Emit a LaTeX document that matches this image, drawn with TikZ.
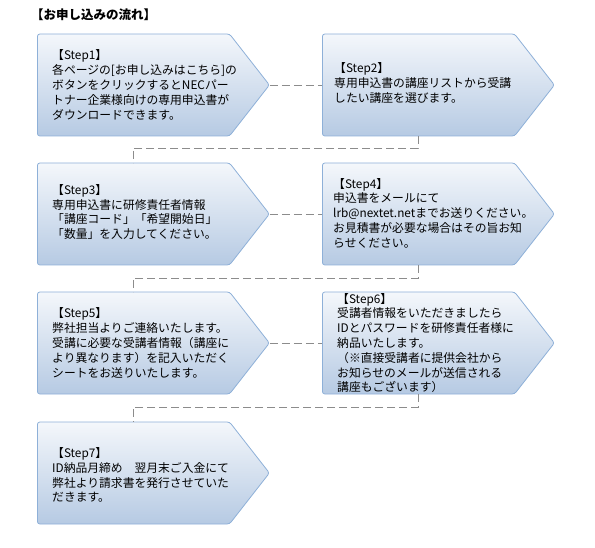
\documentclass[tikz,border=0pt]{standalone}
\usepackage{fontspec}
\setmainfont{Noto Sans CJK JP}
\usetikzlibrary{shapes.symbols,calc}
\definecolor{boxtop}{HTML}{F4F7FB}
\definecolor{boxbottom}{HTML}{B6CAE3}
\definecolor{boxedge}{HTML}{8EB0D8}
\definecolor{linkgray}{HTML}{8C8C8C}

\begin{document}
\begin{tikzpicture}[x=1pt,y=-1pt,
      stepbox/.style={signal,signal to=east,signal pointer angle=104,
        minimum width=232pt,minimum height=102pt,inner sep=0pt,
        draw=boxedge,line width=0.8pt,rounded corners=2.5pt,
        top color=boxtop,bottom color=boxbottom,anchor=west},
      steptext/.style={anchor=west,align=left,inner sep=0pt,
        font=\fontsize{11.8}{14.8}\selectfont},
      link/.style={linkgray,line width=0.8pt,dash pattern=on 8pt off 4pt}]
    \useasboundingbox (0,0) rectangle (595,548);

    % title
    \node[anchor=west,inner sep=0pt,font=\fontsize{12.5}{14}\selectfont\bfseries] (title) at (31,15) {【お申し込みの流れ】};

    % step boxes, two columns
    \node[stepbox] (s1) at (37,85) {};
    \node[stepbox] (s2) at (322,85) {};
    \node[stepbox] (s3) at (37,214) {};
    \node[stepbox] (s4) at (322,214) {};
    \node[stepbox] (s5) at (37,343) {};
    \node[stepbox] (s6) at (322,343) {};
    \node[stepbox] (s7) at (37,473) {};

    % texts
    \node[steptext] (t1) at (52,85) {【Step1】\\各ページの[お申し込みはこちら]の\\ボタンをクリックするとNECパー\\トナー企業様向けの専用申込書が\\ダウンロードできます。};
    \node[steptext] (t2) at (334,83) {【Step2】\\専用申込書の講座リストから受講\\したい講座を選びます。};
    \node[steptext] (t3) at (52,212) {【Step3】\\専用申込書に研修責任者情報\\「講座コード」「希望開始日」\\「数量」を入力してください。};
    \node[steptext] (t4) at (333,213) {【Step4】\\申込書をメールにて\\lrb@nextet.netまでお送りください。\\お見積書が必要な場合はその旨お知\\らせください。};
    \node[steptext] (t5) at (52,343) {【Step5】\\弊社担当よりご連絡いたします。\\受講に必要な受講者情報（講座に\\より異なります）を記入いただく\\シートをお送りいたします。};
    \node[steptext] (t6) at (337,343) {【Step6】\\受講者情報をいただきましたら\\IDとパスワードを研修責任者様に\\納品いたします。\\（※直接受講者に提供会社から\\お知らせのメールが送信される\\講座もございます）};
    \node[steptext] (t7) at (52,475) {【Step7】\\ID納品月締め　翌月末ご入金にて\\弊社より請求書を発行させていた\\だきます。};

    % dashed connectors
    \draw[link] (s1.east) -- (s2.west);
    \draw[link] ($(s2.west)+(96,51)$) -- ++(0,12) -| ($(s3.west)+(96,-51)$);
    \draw[link] (s3.east) -- (s4.west);
    \draw[link] ($(s4.west)+(96,51)$) -- ++(0,13) -| ($(s5.west)+(96,-51)$);
    \draw[link] (s5.east) -- (s6.west);
    \draw[link] ($(s6.west)+(96,51)$) -- ++(0,13) -| ($(s7.west)+(96,-51)$);
  \end{tikzpicture}
\end{document}
